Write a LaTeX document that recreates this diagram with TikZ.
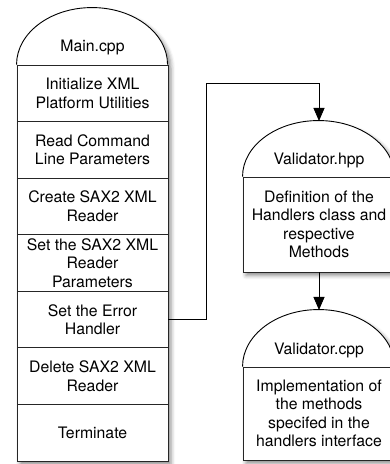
\documentclass[tikz,border=0pt]{standalone}
\usepackage{fontspec}
\setmainfont{TeX Gyre Heros}
\usetikzlibrary{arrows.meta,shadows.blur}

\begin{document}
\begin{tikzpicture}[x=1pt,y=1pt,
  txt/.style={font=\fontsize{15.8}{18.5}\selectfont, align=center},
  section/.style={txt, draw=black!85, line width=0.9pt, inner sep=0pt,
    minimum width=151pt, minimum height=56.57pt},
  capline/.style={draw=black, line width=0.9pt},
  panel/.style={fill=white, blur shadow={shadow xshift=3pt, shadow yshift=-3.5pt,
    shadow blur radius=4pt, shadow opacity=45}},
  flow/.style={draw=black, line width=0.9pt, -{Triangle[length=13pt,width=11pt]}}]
\useasboundingbox (0,0) rectangle (390,464);

% shadowed backgrounds of the three stacks
\path[panel] (17,3) -- (17,399) arc[start angle=180, end angle=0, x radius=75.5, y radius=57] -- (168,3) -- cycle;
\path[panel] (243,192) -- (243,287) arc[start angle=180, end angle=0, x radius=76, y radius=56] -- (395,192) -- cycle;
\path[panel] (243,4) -- (243,97) arc[start angle=180, end angle=0, x radius=76, y radius=57] -- (395,4) -- cycle;

% Main.cpp stack
\node[section] (init)   at (92.5,370.7) {Initialize XML\\Platform Utilities};
\node[section] (cmd)    at (92.5,314.1) {Read Command\\Line Parameters};
\node[section] (create) at (92.5,257.6) {Create SAX2 XML\\Reader};
\node[section] (params) at (92.5,201.0) {Set the SAX2 XML\\Reader\\Parameters};
\node[section] (err)    at (92.5,144.4) {Set the Error\\Handler};
\node[section] (del)    at (92.5,87.9)  {Delete SAX2 XML\\Reader};
\node[section] (term)   at (92.5,31.3)  {Terminate};
\draw[capline] (init.north west) arc[start angle=180, end angle=0, x radius=75.5, y radius=57];
\node[txt, anchor=base] (main) at (92.5,412) {Main.cpp};

% Validator.hpp stack
\node[section, minimum width=152pt, minimum height=95pt] (hppbody) at (319,239.5)
  {Definition of the\\Handlers class and\\respective\\Methods};
\draw[capline] (hppbody.north west) arc[start angle=180, end angle=0, x radius=76, y radius=56];
\node[txt, anchor=base] (hpp) at (319,299.5) {Validator.hpp};
\coordinate (hppcap) at (319,343);

% Validator.cpp stack
\node[section, minimum width=152pt, minimum height=93pt] (cppbody) at (319,50.5)
  {Implementation of\\the methods\\specifed in the\\handlers interface};
\draw[capline] (cppbody.north west) arc[start angle=180, end angle=0, x radius=76, y radius=57];
\node[txt, anchor=base] (cpp) at (319,109.5) {Validator.cpp};
\coordinate (cppcap) at (319,154);

% connectors
\coordinate (bend) at (206,381);
\draw[flow] (err.east) -| (bend) -| (hppcap);
\draw[flow] (hppbody.south) -- (cppcap);
\end{tikzpicture}
\end{document}
